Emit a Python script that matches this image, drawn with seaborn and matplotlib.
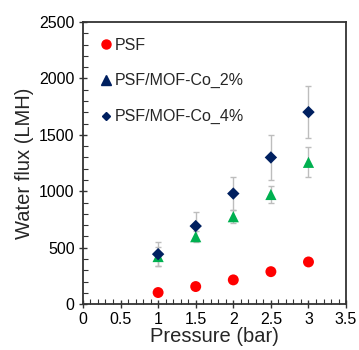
import matplotlib
matplotlib.use("Agg")
import matplotlib.pyplot as plt
from matplotlib.lines import Line2D
from matplotlib.ticker import MultipleLocator
import seaborn as sns
import pandas as pd

pressure = [1, 1.5, 2, 2.5, 3]
psf = [103, 156, 215, 288, 374]
psf_err = [0, 0, 0, 0, 0]
co2 = [422, 598, 775, 972, 1257]
co2_err = [82, 50, 56, 72, 132]
co4 = [443, 692, 980, 1300, 1702]
co4_err = [107, 125, 150, 203, 232]
labels = ["PSF", "PSF/MOF-Co_2%", "PSF/MOF-Co_4%"]

sns.set_theme(style="white")
plt.rcParams['font.family'] = ['Liberation Sans', 'DejaVu Sans']

fig = plt.figure(figsize=(3.59, 3.5), dpi=100)
ax = fig.add_axes([0.231, 0.131, 0.733, 0.806])

rows = []
for lab, vals, errs in zip(labels, [psf, co2, co4], [psf_err, co2_err, co4_err]):
    for p, v, e in zip(pressure, vals, errs):
        rows.append({"Pressure": p, "Flux": v, "Err": e, "Membrane": lab})
df = pd.DataFrame(rows)

errcol = "#BDBDBD"
for lab in labels[::-1]:
    d = df[df.Membrane == lab]
    if d.Err.sum() > 0:
        ax.errorbar(d.Pressure, d.Flux, yerr=d.Err, fmt="none", ecolor=errcol,
                    elinewidth=1.0, capsize=2, capthick=1.0, zorder=1)

colors = {"PSF": "#FF0000", "PSF/MOF-Co_2%": "#00B050", "PSF/MOF-Co_4%": "#002060"}
markers = {"PSF": "o", "PSF/MOF-Co_2%": "^", "PSF/MOF-Co_4%": "D"}
sizes = {"PSF": 62, "PSF/MOF-Co_2%": 65, "PSF/MOF-Co_4%": 40}
for lab in labels:
    d = df[df.Membrane == lab]
    sns.scatterplot(data=d, x="Pressure", y="Flux", color=colors[lab], marker=markers[lab],
                    s=sizes[lab], edgecolor="none", linewidth=0, ax=ax, legend=False, zorder=3)

ax.set_xlim(0, 3.5)
ax.set_ylim(0, 2500)
ax.xaxis.set_minor_locator(MultipleLocator(0.1))
ax.yaxis.set_major_locator(MultipleLocator(500))
ax.yaxis.set_minor_locator(MultipleLocator(100))
ax.set_xticks([0, 0.5, 1, 1.5, 2, 2.5, 3, 3.5])
ax.set_xticklabels(["0", "0.5", "1", "1.5", "2", "2.5", "3", "3.5"])
ax.tick_params(axis="both", which="major", direction="inout", length=6, width=1,
               labelsize=11.5, colors="#333333", labelcolor="black", pad=3,
               bottom=True, left=True, top=False, right=False)
ax.tick_params(axis="both", which="minor", direction="in", length=3.5, width=0.8,
               colors="#333333", bottom=True, left=True, top=False, right=False)
for s in ax.spines.values():
    s.set_color("#333333")
    s.set_linewidth(1.3)

ax.set_xlabel("Pressure (bar)", fontsize=14.5, labelpad=0)
ax.set_ylabel("Water flux (LMH)", fontsize=14.5, labelpad=4)

handles = [
    Line2D([], [], linestyle="none", marker="o", color="#FF0000", markersize=6.5),
    Line2D([], [], linestyle="none", marker="^", color="#002060", markersize=6.5),
    Line2D([], [], linestyle="none", marker="D", color="#002060", markersize=4.5),
]
ax.legend(handles, labels, loc="upper left", bbox_to_anchor=(0.07, 0.945), frameon=False,
          fontsize=11.5, handlelength=0.6, handletextpad=0.25, labelspacing=1.3,
          borderpad=0, borderaxespad=0)

fig.savefig("out.png", dpi=100)
